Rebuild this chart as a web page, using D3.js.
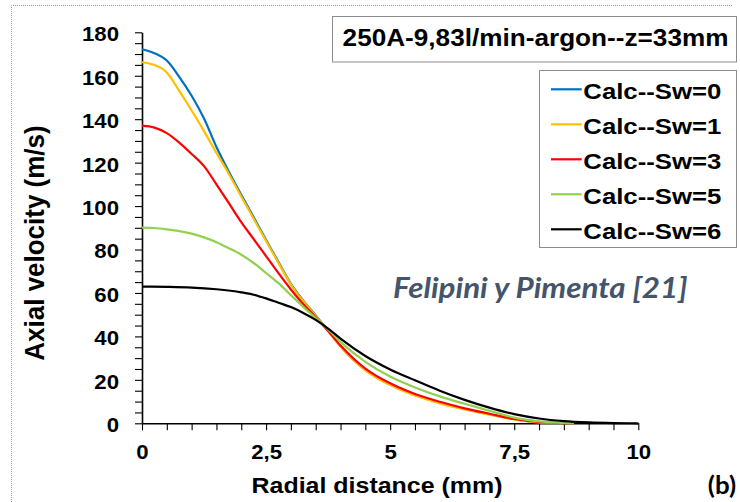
<!DOCTYPE html>
<html>
<head>
<meta charset="utf-8">
<script src="https://cdn.jsdelivr.net/npm/d3@7"></script>
<style>
  html, body { margin: 0; padding: 0; background: #fff; }
  svg { display: block; }
</style>
</head>
<body>
<svg id="chart" width="740" height="502"></svg>
<script>
// ---- data: axial velocity (m/s) vs radial distance (mm) ----
const radius = [0, 0.25, 0.5, 0.75, 1, 1.25, 1.5, 1.75, 2, 2.25, 2.5, 2.75, 3, 3.25, 3.5, 3.75, 4, 4.5, 5, 5.5, 6, 6.5, 7, 7.5, 8, 8.5, 8.7];
const radiusSw6 = [0, 0.5, 1, 1.5, 2, 2.25, 2.5, 2.75, 3, 3.25, 3.5, 3.75, 4, 4.5, 5, 5.5, 6, 6.5, 7, 7.5, 8, 8.5, 9, 9.5, 10];

const velocitySw0 = [172.2, 170.4, 167, 159.5, 150.8, 140.3, 127.2, 115.8, 105.2, 94.8, 84.4, 74.2, 64.2, 56.5, 49.6, 42.6, 35.5, 24.6, 17.8, 13, 9.4, 6.6, 4.2, 1.9, 0.5, 0.1, 0];
const velocitySw1 = [166.2, 164.9, 161.5, 153, 144, 134.5, 124.5, 114.8, 104.4, 94.2, 83.9, 73.8, 63.9, 56.2, 49.4, 42.5, 35.3, 24.4, 17.6, 12.8, 9.2, 6.4, 4.0, 1.8, 0.4, 0.1, 0];
const velocitySw3 = [137, 136.1, 133.6, 129.2, 124, 118.4, 110, 101.4, 92.6, 84.8, 77, 69.1, 61.6, 54.8, 48.8, 42.5, 35.8, 25.2, 18.4, 13.5, 9.9, 6.9, 4.4, 2.0, 0.6, 0.1, 0];
const velocitySw5 = [90.1, 89.9, 89.3, 88.5, 87.3, 85.6, 83.4, 80.6, 77.6, 73.8, 69.2, 64.5, 59, 53.6, 48.4, 43.2, 37.5, 28.3, 21.5, 16.5, 12.4, 9, 5.8, 2.6, 0.9, 0.2, 0];
const velocitySw6 = [62.9, 62.8, 62.5, 61.7, 60.3, 59.2, 57.5, 55.5, 53.5, 50.8, 47.6, 43.6, 39, 31, 24.8, 19.8, 15, 10.8, 7.2, 4.2, 2.2, 1.0, 0.4, 0.1, 0];

const seriesNames = ["Calc--Sw=0", "Calc--Sw=1", "Calc--Sw=3", "Calc--Sw=5", "Calc--Sw=6"];
const seriesRadius = [radius, radius, radius, radius, radiusSw6];
const seriesVelocity = [velocitySw0, velocitySw1, velocitySw3, velocitySw5, velocitySw6];
const seriesColors = ["#0070C0", "#FFC000", "#FF0000", "#92D050", "#000000"];

const xMajorTicks = [0, 2.5, 5, 7.5, 10];
const yMajorTicks = [0, 20, 40, 60, 80, 100, 120, 140, 160, 180];

const titleText = "250A-9,83l/min-argon--z=33mm";
const noteText = "Felipini y Pimenta [21]";
const xTitle = "Radial distance (mm)";
const yTitle = "Axial velocity (m/s)";
const panelTag = "(b)";

// ---- layout ----
const svg = d3.select("#chart");
const SANS = "'Liberation Sans', Arial, sans-serif";
const SX = 1.11; // horizontal widening of the bold labels

const x = d3.scaleLinear().domain([0, 10]).range([142, 638.3]);
const y = d3.scaleLinear().domain([0, 180]).range([423.3, 32.3]);

// dotted frame around the figure
svg.append("path")
  .attr("d", "M11.5,502 V5.5 H733")
  .attr("fill", "none")
  .attr("stroke", "#9a9a9a")
  .attr("stroke-width", 1)
  .attr("stroke-dasharray", "1,1");

// ---- axes ----
const isMajorX = d => xMajorTicks.some(t => Math.abs(t - d) < 1e-6);
const isMajorY = d => yMajorTicks.includes(d);
const fmt = d => String(d).replace(".", ",");

const yAxis = d3.axisLeft(y)
  .tickValues(d3.range(0, 181, 5))
  .tickSize(7)
  .tickSizeOuter(0)
  .tickPadding(16)
  .tickFormat(d => isMajorY(d) ? fmt(d) : "");

const xAxis = d3.axisBottom(x)
  .tickValues(d3.range(0, 20.5, 1).map(i => i * 0.5))
  .tickSize(7)
  .tickSizeOuter(0)
  .tickPadding(15)
  .tickFormat(d => isMajorX(d) ? fmt(d) : "");

const gy = svg.append("g").attr("transform", `translate(${x(0)},0)`).call(yAxis);
const gx = svg.append("g").attr("transform", `translate(0,${y(0)})`).call(xAxis);

[gx, gy].forEach(g => {
  g.select(".domain").attr("stroke", "#000").attr("stroke-width", 1.6);
  g.selectAll(".tick line").attr("stroke", "#000").attr("stroke-width", 1.1);
  g.selectAll(".tick text")
    .attr("fill", "#000")
    .style("font", `700 20px ${SANS}`);
});
gy.selectAll(".tick text")
  .attr("x", -23 / SX)
  .attr("dy", "0.42em")
  .attr("transform", `scale(${SX},1)`);
gx.selectAll(".tick text")
  .attr("transform", `scale(${SX},1)`);

// ---- curves ----
const line = d3.line()
  .x(d => x(d[0]))
  .y(d => y(d[1]))
  .curve(d3.curveMonotoneX);

const seriesData = seriesNames.map((name, i) => ({
  name,
  color: seriesColors[i],
  points: seriesRadius[i].map((r, j) => [r, seriesVelocity[i][j]])
}));

svg.append("g")
  .selectAll("path")
  .data(seriesData)
  .join("path")
  .attr("d", d => line(d.points))
  .attr("fill", "none")
  .attr("stroke", d => d.color)
  .attr("stroke-width", 2.2)
  .attr("stroke-linejoin", "round");

// ---- axis titles ----
svg.append("text")
  .attr("transform", `translate(377,493.3) scale(${SX},1)`)
  .attr("text-anchor", "middle")
  .style("font", `700 22.5px ${SANS}`)
  .attr("fill", "#000")
  .text(xTitle);

svg.append("text")
  .attr("transform", "translate(44,243) rotate(-90) scale(1,1.07)")
  .attr("text-anchor", "middle")
  .style("font", `700 26px ${SANS}`)
  .attr("fill", "#000")
  .text(yTitle);

svg.append("text")
  .attr("transform", "translate(736,494) scale(1.08,1)")
  .attr("text-anchor", "end")
  .style("font", "700 24px Lato, 'Open Sans', sans-serif")
  .attr("fill", "#000")
  .text(panelTag);

// ---- title box ----
svg.append("rect")
  .attr("x", 332.5).attr("y", 16.5)
  .attr("width", 404).attr("height", 45.5)
  .attr("fill", "#fff")
  .attr("stroke", "#8c8c8c");
svg.append("text")
  .attr("transform", `translate(535.5,45.7) scale(1.09,1)`)
  .attr("text-anchor", "middle")
  .style("font", `700 24px ${SANS}`)
  .attr("fill", "#000")
  .text(titleText);

// ---- legend ----
const legend = svg.append("g");
legend.append("rect")
  .attr("x", 539.5).attr("y", 70.5)
  .attr("width", 197).attr("height", 177)
  .attr("fill", "#fff")
  .attr("stroke", "#8c8c8c");
const rows = legend.selectAll("g.row")
  .data(seriesData)
  .join("g")
  .attr("class", "row")
  .attr("transform", (d, i) => `translate(0,${89.3 + 35 * i})`);
rows.append("line")
  .attr("x1", 551).attr("x2", 581.7)
  .attr("stroke", d => d.color)
  .attr("stroke-width", 2.2);
rows.append("text")
  .attr("transform", `translate(583.3,10) scale(1.12,1)`)
  .style("font", `700 23px ${SANS}`)
  .attr("fill", "#000")
  .text(d => d.name);

// ---- source note ----
svg.append("text")
  .attr("transform", "translate(393,298) scale(1.1,1)")
  .style("font", "italic 700 28.5px Lato, 'Open Sans', sans-serif")
  .attr("fill", "#44546A")
  .text(noteText);
</script>
</body>
</html>
